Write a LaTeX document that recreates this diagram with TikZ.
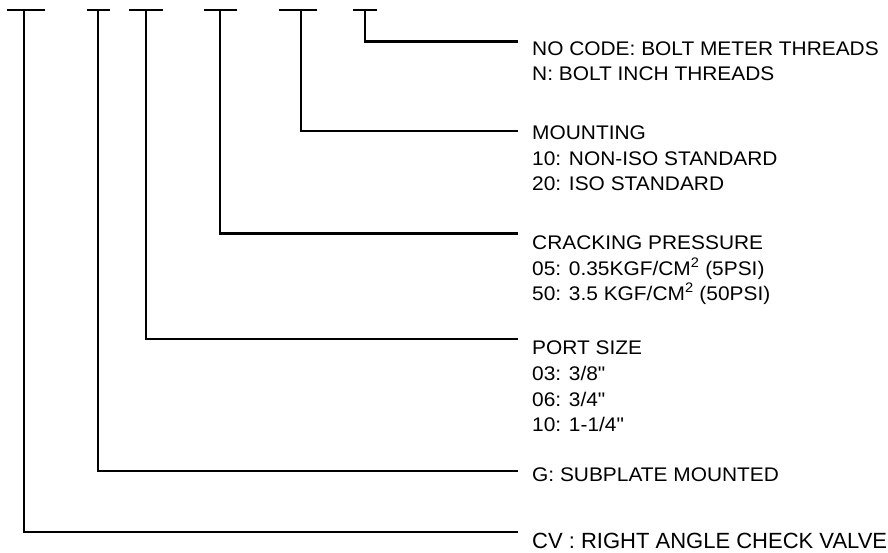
\documentclass[tikz,border=0pt]{standalone}
\usepackage{fontspec}
\setmainfont{Liberation Sans}
\begin{document}
\begin{tikzpicture}[x=1pt,y=-1pt,
  bar/.style={line width=1.4pt},
  conn/.style={line width=2.2pt},
  lbl/.style={anchor=base west,inner sep=0pt,xscale=1.06,font=\fontsize{19.7}{23}\selectfont},
  biglbl/.style={anchor=base west,inner sep=0pt,font=\fontsize{22}{26}\selectfont}]
\useasboundingbox (0,0) rectangle (888,553);
% top T-bars
\foreach \n/\a/\b/\v in {1/7/45/24, 2/87/110/98, 3/129/163/146, 4/204/237/220, 5/279/317/301, 6/353/377/365}{
  \coordinate (L\n) at (\a,10);
  \coordinate (R\n) at (\b,10);
  \coordinate (T\n) at (\v,10);
  \draw[bar] (L\n) -- (R\n);
}
% line end coordinates
\coordinate (E6) at (518,41.5);
\coordinate (E5) at (518,131);
\coordinate (E4) at (518,233.5);
\coordinate (E3) at (518,339);
\coordinate (E2) at (518,471);
\coordinate (E1) at (518,532);
\draw[conn] (T6) |- (E6);
\draw[conn] (T5) |- (E5);
\draw[conn] (T4) |- (E4);
\draw[conn] (T3) |- (E3);
\draw[conn] (T2) |- (E2);
\draw[conn] (T1) |- (E1);
% texts
\node[lbl] (a6) at (532,56) {NO CODE: BOLT METER THREADS};
\node[lbl] (b6) at (532,81) {N: BOLT INCH THREADS};
\node[lbl] (a5) at (532,140) {MOUNTING};
\node[lbl] (b5) at (532,165.5) {10: NON-ISO STANDARD};
\node[lbl] (c5) at (532,191) {20: ISO STANDARD};
\node[lbl] (a4) at (532,249.5) {CRACKING PRESSURE};
\node[lbl] (b4) at (532,275) {05: 0.35KGF/CM\textsuperscript{2} (5PSI)};
\node[lbl] (c4) at (532,300.5) {50: 3.5 KGF/CM\textsuperscript{2} (50PSI)};
\node[lbl] (a3) at (532,354.5) {PORT SIZE};
\node[lbl] (b3) at (532,380) {03: 3/8\textquotedbl};
\node[lbl] (c3) at (532,406) {06: 3/4\textquotedbl};
\node[lbl] (d3) at (532,431.5) {10: 1-1/4\textquotedbl};
\node[lbl] (a2) at (532,481.5) {G: SUBPLATE MOUNTED};
\node[biglbl] (a1) at (532,548.5) {CV : RIGHT ANGLE CHECK VALVE};
\end{tikzpicture}
\end{document}
